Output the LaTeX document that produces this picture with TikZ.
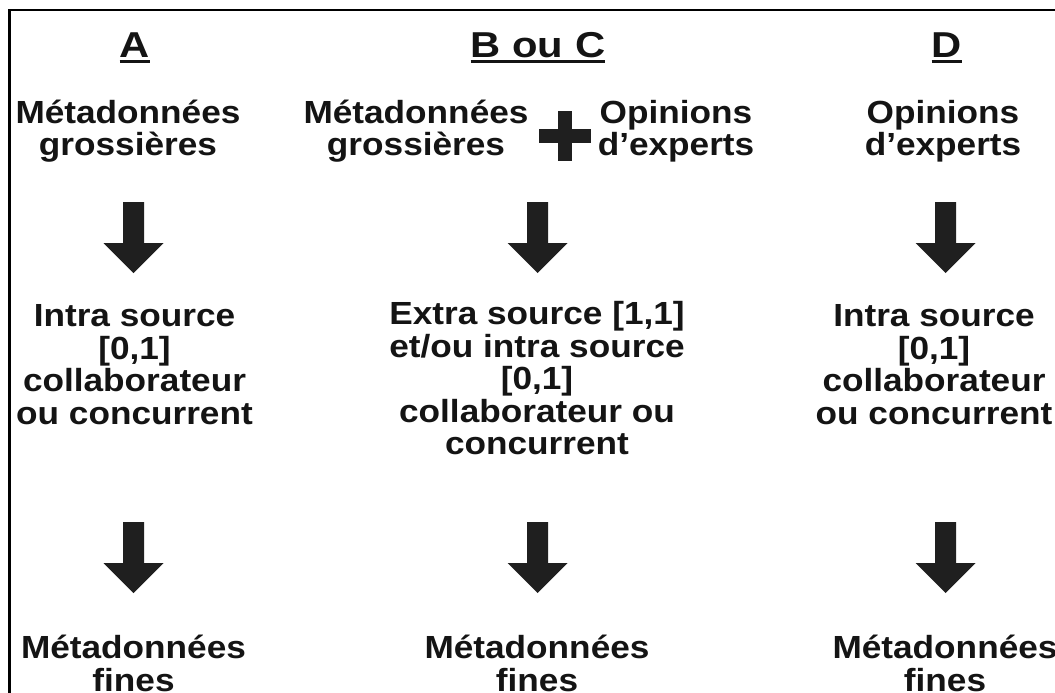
\documentclass[tikz,border=0pt]{standalone}
\usepackage{fontspec}
\setmainfont{Liberation Sans}[FakeStretch=1.1]
\begin{document}
\begin{tikzpicture}[x=1pt,y=-1pt,
  ink/.style={text=black!92},
  label/.style={ink,inner sep=0pt,anchor=base,align=center,
    font=\fontsize{32}{32.5}\selectfont\bfseries},
  header/.style={ink,inner sep=0pt,anchor=base,
    font=\fontsize{36}{37}\selectfont\bfseries\addfontfeature{FakeStretch=1.16}},
  uline/.style={line width=3pt,draw=black!92},
  frame/.style={line width=2.2pt,draw=black},
  arrowfill/.style={fill=black!88},
  bigarrow/.pic={
    \fill[arrowfill] (-10.5,0) -- (10.5,0) -- (10.5,41) -- (30,41)
      -- (0,71) -- (-30,41) -- (-10.5,41) -- cycle;}
]
\useasboundingbox (0,0) rectangle (1055,693);
\fill[white] (0,0) rectangle (1055,693);
\clip (0,0) rectangle (1055,693);

% open frame: only the left and top edges fall inside the page
\draw[frame] (9.5,720) -- (9.5,10) -- (1080,10);

% column headers
\node[header] (hA) at (135,57.3) {A};
\node[header] (hB) at (538,57.3) {B ou C};
\node[header] (hD) at (947,57.3) {D};
\foreach \h in {hA,hB,hD}
  \draw[uline] ([yshift=-4.5pt]\h.base west) -- ([yshift=-4.5pt]\h.base east);

% inputs (node base = baseline of the last line)
\node[label] (inA)  at (128,155.6) {Métadonnées\\grossières};
\node[label] (inB1) at (416,155.6) {Métadonnées\\grossières};
\node[label] (inB2) at (676,155.6) {Opinions\\d’experts};
\node[label] (inD)  at (943,155.6) {Opinions\\d’experts};

% plus sign joining the two inputs of the middle column
\fill[arrowfill] (539,129) rectangle (591,143);
\fill[arrowfill] (558,111) rectangle (572,161);

% first row of arrows
\pic at (133.5,202) {bigarrow};
\pic at (537.5,202) {bigarrow};
\pic at (945.5,202) {bigarrow};

% processing
\node[label] (midA) at (134.5,424)
  {Intra source\\{[0,1]}\\collaborateur\\ou concurrent};
\node[label] (midB) at (537,454.5)
  {Extra source [1,1]\\et/ou intra source\\{[0,1]}\\collaborateur ou\\concurrent};
\node[label] (midD) at (934,424)
  {Intra source\\{[0,1]}\\collaborateur\\ou concurrent};

% second row of arrows
\pic at (133.5,522) {bigarrow};
\pic at (537.5,522) {bigarrow};
\pic at (945.5,522) {bigarrow};

% outputs
\node[label] (outA) at (133.5,691) {Métadonnées\\fines};
\node[label] (outB) at (537,691) {Métadonnées\\fines};
\node[label] (outD) at (945,691) {Métadonnées\\fines};
\end{tikzpicture}
\end{document}
